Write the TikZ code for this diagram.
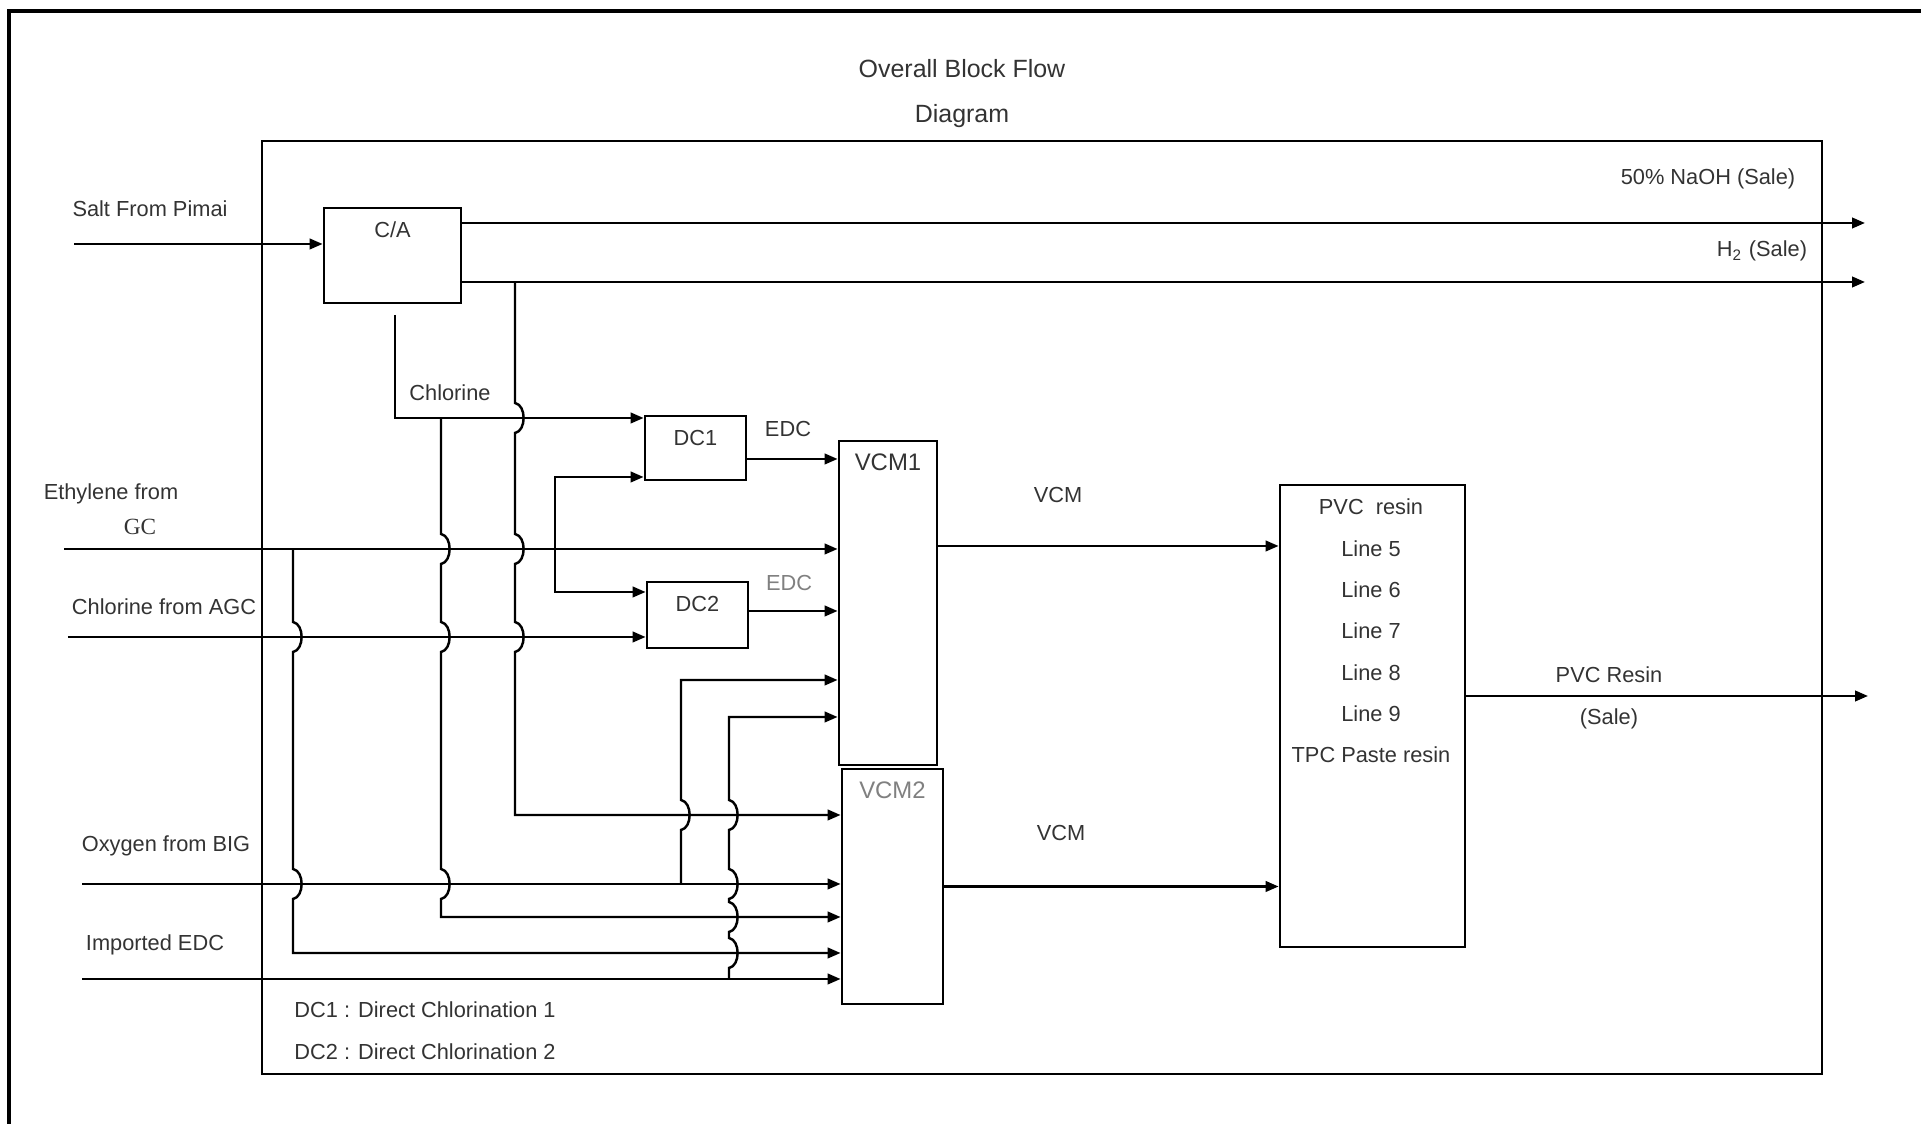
\documentclass[tikz,border=0pt]{standalone}
\usepackage{fontspec}
\setmainfont{Liberation Sans}
\newfontfamily\gcfont{Liberation Serif}
\usetikzlibrary{arrows.meta, positioning}

% line hops (a vertical line jumping over a horizontal one)
\newcommand{\hopdn}[2]{-- (#1,#2+0.15) to[bend left=80] (#1,#2-0.15)}
\newcommand{\hopup}[2]{-- (#1,#2-0.15) to[bend right=80] (#1,#2+0.15)}

\begin{document}
\begin{tikzpicture}[
    font=\fontsize{6.2}{7.4}\selectfont, text=black!80,
    unit/.style={draw, line width=0.8pt, inner sep=0pt},
    boxlabel/.style={label={[anchor=center, yshift=-0.23cm]north:#1}},
    palelabel/.style={label={[anchor=center, yshift=-0.23cm, text=black!50]north:#1}},
    flow/.style={line width=0.7pt, -{Triangle[length=3.7pt,width=3pt]}},
    big/.style={font=\fontsize{7.1}{8.5}\selectfont}
]
\useasboundingbox (0,0) rectangle (19.21,-11.24);

% frames and title
\draw[line width=1.1pt] (0.09,-11.24) -- (0.09,-0.11) -- (19.21,-0.11);
\draw[line width=0.6pt] (2.62,-1.41) rectangle (18.22,-10.74);
\node[big] (title1) at (9.62,-0.69) {Overall Block Flow};
\node[big] (title2) at (9.62,-1.16) {Diagram};

% units
\node[unit, minimum width=1.37cm, minimum height=0.95cm, boxlabel={C/A}] (CA) at (3.925,-2.555) {};
\node[unit, minimum width=1.01cm, minimum height=0.64cm, boxlabel={DC1}] (DC1) at (6.955,-4.48) {};
\node[unit, minimum width=1.01cm, minimum height=0.66cm, boxlabel={DC2}] (DC2) at (6.975,-6.15) {};
\node[unit, minimum width=0.98cm, minimum height=3.24cm, boxlabel={\fontsize{6.8}{8}\selectfont VCM1}] (VCM1) at (8.88,-6.03) {};
\node[unit, minimum width=1.01cm, minimum height=2.35cm, palelabel={\fontsize{6.8}{8}\selectfont VCM2}] (VCM2) at (8.925,-8.865) {};
\node[unit, minimum width=1.85cm, minimum height=4.62cm] (PVC) at (13.725,-7.16) {};
\node[align=center, font=\fontsize{6.2}{11.76}\selectfont] (lines) at (13.71,-6.31)
    {PVC\ \ resin\\Line 5\\Line 6\\Line 7\\Line 8\\Line 9\\TPC Paste resin};

% feed and product ends
\coordinate (saltIn) at (0.74,-2.44);
\coordinate (ethIn) at (0.64,-5.49);
\coordinate (clIn) at (0.68,-6.37);
\coordinate (oxIn) at (0.82,-8.84);
\coordinate (edcIn) at (0.82,-9.79);
\coordinate (naohOut) at (18.65,-2.23);
\coordinate (htwoOut) at (18.65,-2.82);
\coordinate (resinOut) at (18.68,-6.96);

% C/A streams
\draw[flow] (saltIn) -- (saltIn -| CA.west);
\draw[flow] (CA.east |- naohOut) -- (naohOut);
\draw[flow] (CA.east |- htwoOut) -- (htwoOut);
\draw[flow] (3.95,-3.15) -- (3.95,-4.18) -- (3.95,-4.18 -| DC1.west);
\draw[flow] (5.15,-2.82) \hopdn{5.15}{-4.18} \hopdn{5.15}{-5.49} \hopdn{5.15}{-6.37} |- (5.15,-8.15 -| VCM2.west);
\draw[flow] (4.41,-4.18) \hopdn{4.41}{-5.49} \hopdn{4.41}{-6.37} \hopdn{4.41}{-8.84} |- (4.41,-9.17 -| VCM2.west);

% ethylene and chlorine from AGC
\draw[flow] (ethIn) -- (ethIn -| VCM1.west);
\draw[flow] (2.93,-5.49) \hopdn{2.93}{-6.37} \hopdn{2.93}{-8.84} |- (2.93,-9.53 -| VCM2.west);
\draw[flow] (5.55,-5.49) |- (5.55,-4.77 -| DC1.west);
\draw[flow] (5.55,-5.49) |- (5.55,-5.92 -| DC2.west);
\draw[flow] (clIn) -- (clIn -| DC2.west);

% EDC to VCM1
\draw[flow] ([yshift=-0.11cm]DC1.east) -- ([yshift=-0.11cm]DC1.east -| VCM1.west);
\draw[flow] ([yshift=0.04cm]DC2.east) -- ([yshift=0.04cm]DC2.east -| VCM1.west);

% oxygen and imported EDC
\draw[flow] (oxIn) -- (oxIn -| VCM2.west);
\draw[flow] (6.81,-8.84) \hopup{6.81}{-8.15} |- (6.81,-6.80 -| VCM1.west);
\draw[flow] (edcIn) -- (edcIn -| VCM2.west);
\draw[flow] (7.29,-9.79) \hopup{7.29}{-9.53} \hopup{7.29}{-9.17} \hopup{7.29}{-8.84} \hopup{7.29}{-8.15} |- (7.29,-7.17 -| VCM1.west);

% VCM to PVC, resin out
\draw[flow] ([yshift=0.57cm]VCM1.east) -- ([yshift=0.57cm]VCM1.east -| PVC.west);
\draw[flow] (VCM2.east) -- (VCM2.east -| PVC.west);
\draw[flow] ([yshift=0.2cm]PVC.east) -- (resinOut);

% stream labels
\node (tSalt) at (1.50,-2.09) {Salt From Pimai};
\node (tEth) at (1.11,-4.94) {Ethylene from};
\node[font=\gcfont\fontsize{6.6}{8}\selectfont] (tGC) at (1.40,-5.27) {GC};
\node (tAGC) at (1.64,-6.07) {Chlorine from AGC};
\node (tOx) at (1.66,-8.46) {Oxygen from BIG};
\node (tImp) at (1.55,-9.45) {Imported EDC};
\node (tCl) at (4.50,-3.93) {Chlorine};
\node (tEDCa) at (7.88,-4.29) {EDC};
\node[text=black!50] (tEDCb) at (7.89,-5.83) {EDC};
\node (tVCMa) at (10.58,-4.95) {VCM};
\node (tVCMb) at (10.61,-8.33) {VCM};
\node (tNaOH) at (17.08,-1.79) {50\% NaOH (Sale)};
\node (tHtwo) at (17.62,-2.51) {H\textsubscript{2} (Sale)};
\node (tResin) at (16.09,-6.75) {PVC Resin};
\node (tSale) at (16.09,-7.19) {(Sale)};

% legend
\node[anchor=west] (key1) at (2.82,-10.10) {DC1 : Direct Chlorination 1};
\node[anchor=west] (key2) at (2.82,-10.52) {DC2 : Direct Chlorination 2};
\end{tikzpicture}
\end{document}
